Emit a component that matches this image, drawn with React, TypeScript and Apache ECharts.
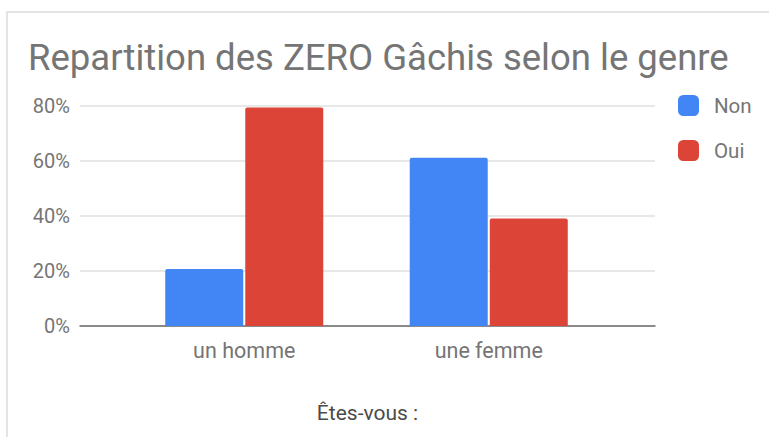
import React, { useEffect, useRef } from "react";
import * as echarts from "echarts";

const categories = ["un homme", "une femme"];
const nonValues = [20.7, 61];
const ouiValues = [79.3, 39];
const yTicks = [0, 20, 40, 60, 80];
const titleText = "Repartition des ZERO Gâchis selon le genre";
const axisTitle = "Êtes-vous :";
const seriesNames = ["Non", "Oui"];

export default function App() {
  const ref = useRef<HTMLDivElement>(null);
  useEffect(() => {
    document.body.style.margin = "0";
    const chart = echarts.init(ref.current!, null, { renderer: "svg" });
    const font = "Roboto";
    const yMax = yTicks[yTicks.length - 1];
    const yInterval = yTicks[1] - yTicks[0];
    chart.setOption({
      animation: false,
      backgroundColor: "#ffffff",
      textStyle: { fontFamily: font },
      title: {
        text: titleText,
        left: 23,
        top: 34,
        textStyle: { fontSize: 36.5, fontWeight: "normal", color: "#757575", fontFamily: font },
      },
      legend: {
        data: seriesNames,
        orient: "vertical",
        left: 673,
        top: 90,
        itemWidth: 21,
        itemHeight: 21,
        itemGap: 24,
        icon: "roundRect",
        textStyle: { fontSize: 20.5, color: "#757575", fontFamily: font, padding: [0, 0, 0, 10] },
      },
      graphic: [
        {
          type: "rect",
          shape: { x: 7, y: 12, width: 800, height: 460 },
          style: { fill: "none", stroke: "#dcdcdc", lineWidth: 1.5 },
          silent: true,
          z: -10,
        },
      ],
      grid: [
        { left: 80, right: 114, top: 105.5, bottom: 111 },
        { left: 122, right: 158, top: 105.5, bottom: 111 },
      ],
      xAxis: [
        {
          gridIndex: 0,
          type: "category",
          data: categories,
          name: axisTitle,
          nameLocation: "middle",
          nameGap: 76,
          nameTextStyle: { fontSize: 21, color: "#4a4a4a", fontFamily: font },
          axisLine: { show: true, lineStyle: { color: "#6b6b6b", width: 1.5 } },
          axisTick: { show: false },
          axisLabel: { show: false },
        },
        {
          gridIndex: 1,
          type: "category",
          data: categories,
          axisLine: { show: false },
          axisTick: { show: false },
          axisLabel: { fontSize: 21.5, color: "#757575", margin: 13, fontFamily: font },
        },
      ],
      yAxis: [
        {
          gridIndex: 0,
          type: "value",
          min: 0,
          max: yMax,
          interval: yInterval,
          axisLine: { show: false },
          axisTick: { show: false },
          axisLabel: { fontSize: 20, color: "#757575", margin: 10, formatter: "{value}%", fontFamily: font },
          splitLine: { lineStyle: { color: "#e0e0e0", width: 1.5 } },
        },
        {
          gridIndex: 1,
          type: "value",
          min: 0,
          max: yMax,
          interval: yInterval,
          show: false,
          splitLine: { show: false },
        },
      ],
      series: [
        {
          name: seriesNames[0],
          type: "bar",
          xAxisIndex: 1,
          yAxisIndex: 1,
          data: nonValues,
          barWidth: 78,
          barGap: "2.6%",
          itemStyle: { color: "#4285F4", borderRadius: [2, 2, 0, 0] },
        },
        {
          name: seriesNames[1],
          type: "bar",
          xAxisIndex: 1,
          yAxisIndex: 1,
          data: ouiValues,
          barWidth: 78,
          barGap: "2.6%",
          itemStyle: { color: "#DB4437", borderRadius: [2, 2, 0, 0] },
        },
      ],
    });
    return () => chart.dispose();
  }, []);
  return <div ref={ref} style={{ width: 769, height: 437 }} />;
}
